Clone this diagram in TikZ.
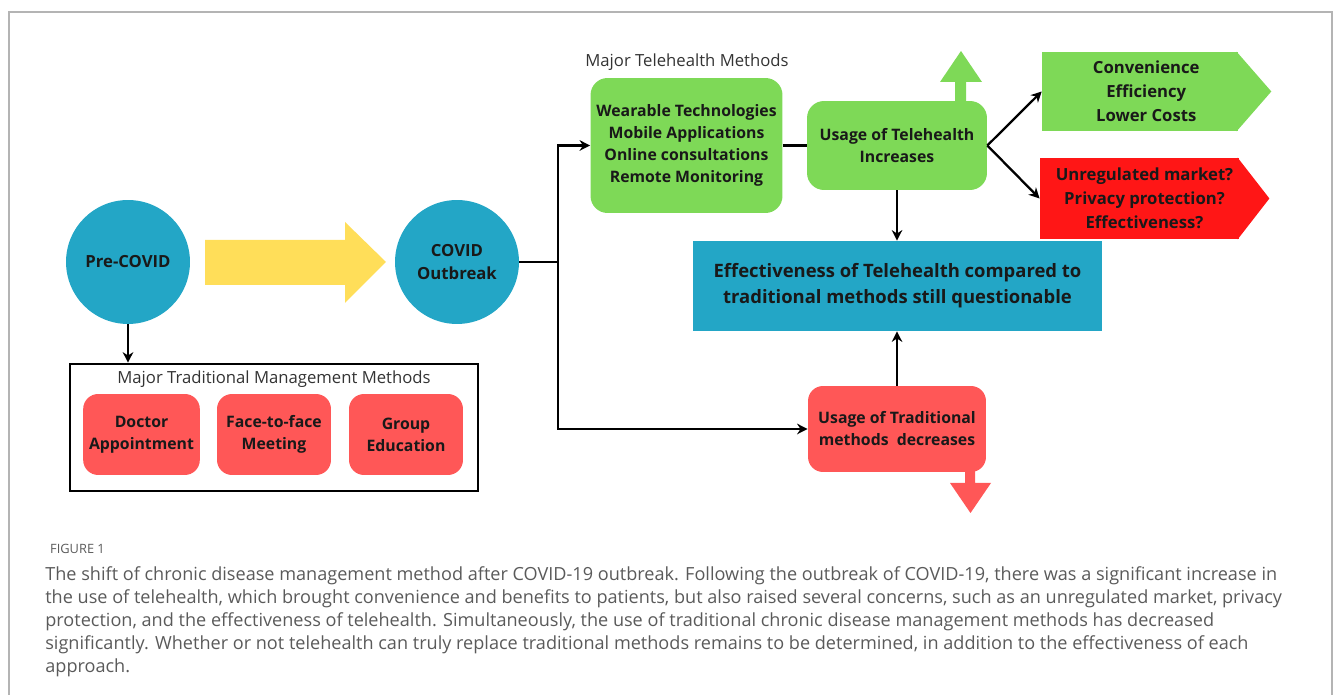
\documentclass[tikz,border=0pt]{standalone}
\usepackage{fontspec}
\setmainfont{Open Sans}
\usetikzlibrary{arrows.meta}
\definecolor{covidblue}{HTML}{23A6C6}
\definecolor{usegreen}{HTML}{7ED957}
\definecolor{usered}{HTML}{FF5757}
\definecolor{alarmred}{HTML}{FF1616}
\definecolor{shiftyellow}{HTML}{FFDE59}
\definecolor{framegray}{HTML}{B4B4B4}
\definecolor{captiongray}{HTML}{5A5A5A}
\begin{document}
\begin{tikzpicture}
  [x=0.02cm,y=-0.02cm,every node/.style={font=\fontsize{9}{12.5}\selectfont\bfseries,text=black!90,align=center}]
  \tikzstyle{disc} = [circle,fill=covidblue,minimum size=2.48cm,inner sep=0pt,font=\fontsize{9.5}{13.4}\selectfont\bfseries]
  \tikzstyle{goodbox} = [rectangle,rounded corners=0.34cm,fill=usegreen]
  \tikzstyle{badbox} = [rectangle,rounded corners=0.3cm,fill=usered]
  \tikzstyle{flagbox} = [rectangle,fill=#1,minimum width=3.92cm,minimum height=1.58cm,font=\fontsize{9.5}{13.6}\selectfont\bfseries]
  \tikzstyle{heading} = [font=\fontsize{9.5}{12}\selectfont,text=black!80]
  \tikzstyle{line} = [line width=1.3pt]
  \tikzstyle{arr} = [line,-{Stealth[length=6pt,width=6pt]}]
  \useasboundingbox (0,0) rectangle (1333,695);
  \draw[framegray,line width=1pt] (9,700) -- (9,12) -- (1332,12) -- (1332,700);

  % left part
  \node[disc] (pre) at (128,262) {Pre-COVID};
  \node[disc] (covid) at (457,262) {COVID\\Outbreak};
  \fill[shiftyellow] (205,240) -- (345,240) -- (345,222) -- (386,262)
    -- (345,303) -- (345,285) -- (205,285) -- cycle;
  \node[draw,line width=1.5pt,minimum width=8.16cm,minimum height=2.54cm] (tradbox) at (274,427.5) {};
  \node[heading] (tradlabel) at (274,379) {Major Traditional Management Methods};
  \node[badbox,minimum width=2.3cm,minimum height=1.62cm] (doc) at (141.5,434.5) {Doctor\\Appointment};
  \node[badbox,minimum width=2.28cm,minimum height=1.62cm] (face) at (274,434.5) {Face-to-face\\Meeting};
  \node[badbox,minimum width=2.28cm,minimum height=1.62cm] (group) at (406,434.5) {Group\\Education};

  % telehealth part
  \node[heading] (telelabel) at (687,62) {Major Telehealth Methods};
  \node[goodbox,minimum width=3.74cm,minimum height=2.7cm] (web) at (686.5,145.5)
    {Wearable Technologies\\Mobile Applications\\Online consultations\\Remote Monitoring};
  \node[goodbox,minimum width=3.6cm,minimum height=1.78cm] (inc) at (897,145.5) {Usage of Telehealth\\Increases};
  \fill[usegreen] (955,102) -- (955,82) -- (940,82) -- (961,51) -- (982,82) -- (966,82) -- (966,102) -- cycle;
  \node[flagbox=usegreen] (conv) at (1140,91.5) {\hspace*{0.25cm}Convenience\\\hspace*{0.25cm}Efficiency\\\hspace*{0.25cm}Lower Costs};
  \fill[usegreen] ([xshift=-1pt]conv.north east) -- ([xshift=0.66cm]conv.east) -- ([xshift=-1pt]conv.south east) -- cycle;
  \node[flagbox=alarmred,minimum height=1.62cm] (risk) at (1139.5,198.5) {\hspace*{0.2cm}Unregulated market?\\\hspace*{0.2cm}Privacy protection?\\\hspace*{0.2cm}Effectiveness?};
  \fill[alarmred] ([xshift=-1pt]risk.north east) -- ([xshift=0.6cm]risk.east) -- ([xshift=-1pt]risk.south east) -- cycle;
  \node[rectangle,fill=covidblue,minimum width=8.18cm,minimum height=1.8cm,font=\fontsize{10.5}{14.7}\selectfont\bfseries] (eff) at (897.5,286)
    {Effectiveness of Telehealth compared to\\traditional methods still questionable};
  \node[badbox,minimum width=3.56cm,minimum height=1.72cm] (dec) at (897,429) {Usage of Traditional\\methods\ \ decreases};
  \fill[usered] (965,470) -- (965,483) -- (950,483) -- (970.5,513) -- (991,483) -- (975,483) -- (975,470) -- cycle;

  \coordinate (split) at (558,262);
  \draw[arr] (pre.south) -- (pre.south |- tradbox.north);
  \draw[line] (covid) -- (split);
\foreach \dest in {web,dec}
   \draw[arr] (split) |- (\dest);
  \draw[line] (web) -- (inc);
\foreach \dest in {conv,risk}
   \draw[arr] (inc.east) -- (\dest.west);
  \draw[arr] (inc.south) -- (inc.south |- eff.north);
  \draw[arr] (dec.north) -- (dec.north |- eff.south);

  % caption
  \node[anchor=west,font=\fontsize{7.3}{9}\selectfont,text=captiongray] (fig) at (44,549) {FIGURE 1};
  \node[anchor=north west,align=left,inner sep=0pt,font=\fontsize{10.3}{13.2}\selectfont,text=captiongray] (caption) at (45,566)
    {The shift of chronic disease management method after COVID-19 outbreak. Following the outbreak of COVID-19, there was a significant increase in\\
     the use of telehealth, which brought convenience and benefits to patients, but also raised several concerns, such as an unregulated market, privacy\\
     protection, and the effectiveness of telehealth. Simultaneously, the use of traditional chronic disease management methods has decreased\\
     significantly. Whether or not telehealth can truly replace traditional methods remains to be determined, in addition to the effectiveness of each\\
     approach.};
  \end{tikzpicture}
\end{document}
